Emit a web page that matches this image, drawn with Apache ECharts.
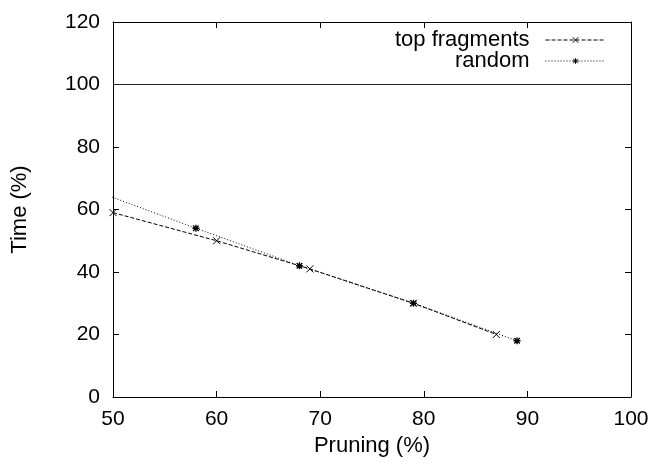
<!DOCTYPE html>
<html>
<head>
<meta charset="utf-8">
<script src="https://cdn.jsdelivr.net/npm/echarts@6/dist/echarts.min.js"></script>
<style>
  html, body { margin: 0; padding: 0; background: #fff; }
  #chart { width: 655px; height: 467px; }
</style>
</head>
<body>
<div id="chart"></div>
<script>
// Pruning (%) vs Time (%) for two fragment selection strategies
const topFragmentsPruning = [50, 60, 69, 79, 87];
const topFragmentsTime    = [59, 50, 41, 30, 20];
const randomPruning = [45, 58, 68, 79, 89];
const randomTime    = [70, 54, 42, 30, 18];
const xTicks = [50, 60, 70, 80, 90, 100];
const yTicks = [0, 20, 40, 60, 80, 100, 120];
const referenceLevel = 100;

const FONT = '"Liberation Sans", Arial, Helvetica, sans-serif';
const CROSS = 'path://M0,0L10,10M10,0L0,10';
const STAR = 'path://M0,5L10,5M5,0L5,10M1,1L9,9M9,1L1,9';

function pairs(xs, ys) { return xs.map((x, i) => [x, ys[i]]); }

const axisBase = {
  type: 'value',
  axisLine: { show: true, onZero: false, lineStyle: { color: '#000', width: 1 } },
  axisTick: { show: true, inside: true, length: 6, lineStyle: { color: '#000' } },
  splitLine: { show: false },
  axisLabel: { color: '#000', fontFamily: FONT, fontSize: 21 }
};

const legendBase = {
  right: 49, align: 'right', padding: 0,
  itemWidth: 60, itemHeight: 7, itemGap: 0,
  itemStyle: { color: 'rgba(0,0,0,0)', borderColor: '#000', borderWidth: 1 },
  lineStyle: { width: 1 },
  textStyle: { color: '#000', fontFamily: FONT, fontSize: 22, padding: [0, 11, 0, 0] }
};

const chart = echarts.init(document.getElementById('chart'), null, { renderer: 'canvas' });
chart.setOption({
  animation: false,
  backgroundColor: '#fff',
  grid: { left: 113, right: 24, top: 22, bottom: 70 },
  xAxis: [
    Object.assign({}, axisBase, {
      min: xTicks[0], max: xTicks[xTicks.length - 1], interval: 10,
      name: 'Pruning (%)', nameLocation: 'middle', nameGap: 36,
      nameTextStyle: { color: '#000', fontFamily: FONT, fontSize: 22 },
      axisLabel: Object.assign({}, axisBase.axisLabel, { margin: 12 })
    }),
    Object.assign({}, axisBase, {
      position: 'top',
      min: xTicks[0], max: xTicks[xTicks.length - 1], interval: 10,
      axisLabel: { show: false }
    })
  ],
  yAxis: [
    Object.assign({}, axisBase, {
      min: yTicks[0], max: yTicks[yTicks.length - 1], interval: 20,
      name: 'Time (%)', nameLocation: 'middle', nameGap: 82, nameRotate: 90,
      nameTextStyle: { color: '#000', fontFamily: FONT, fontSize: 22 },
      axisLabel: Object.assign({}, axisBase.axisLabel, { margin: 13 })
    }),
    Object.assign({}, axisBase, {
      position: 'right',
      min: yTicks[0], max: yTicks[yTicks.length - 1], interval: 20,
      axisLabel: { show: false }
    })
  ],
  legend: [
    Object.assign({}, legendBase, { data: ['top fragments'], top: 29 }),
    Object.assign({}, legendBase, { data: ['random'], top: 50 })
  ],
  series: [
    {
      name: 'top fragments', type: 'line',
      data: pairs(topFragmentsPruning, topFragmentsTime),
      symbol: CROSS, symbolSize: 7, showAllSymbol: true,
      lineStyle: { color: '#000', width: 1, type: [4, 2] },
      itemStyle: { color: 'rgba(0,0,0,0)', borderColor: '#000', borderWidth: 1 },
      clip: true, z: 3,
      markLine: {
        silent: true, symbol: 'none', animation: false,
        label: { show: false },
        lineStyle: { color: '#222', width: 1, type: 'solid' },
        data: [{ yAxis: referenceLevel }]
      }
    },
    {
      name: 'random', type: 'line',
      data: pairs(randomPruning, randomTime),
      symbol: STAR, symbolSize: 7, showAllSymbol: true,
      lineStyle: { color: '#000', width: 1, type: [1, 2] },
      itemStyle: { color: 'rgba(0,0,0,0)', borderColor: '#000', borderWidth: 1.3 },
      clip: true, z: 4
    }
  ]
});
</script>
</body>
</html>
